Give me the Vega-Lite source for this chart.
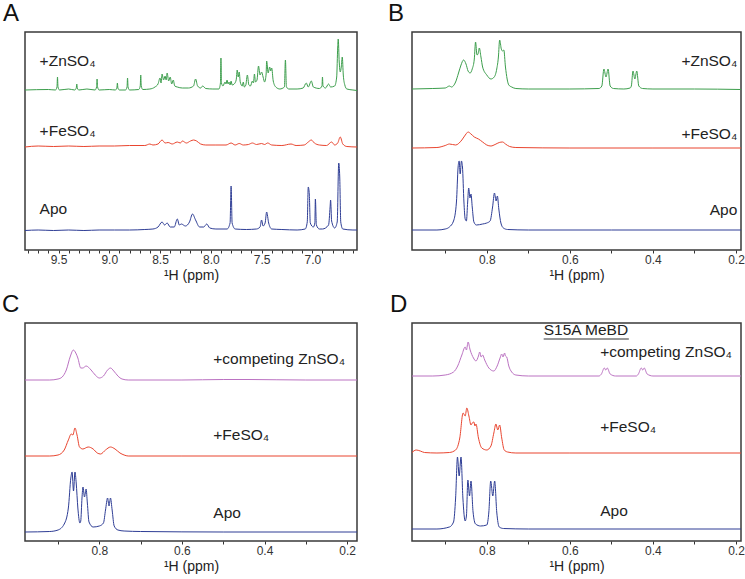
{
  "$schema": "https://vega.github.io/schema/vega-lite/v6.json",
  "padding": {"left": 1, "top": 1, "right": 0, "bottom": 0},
  "background": "white",
  "config": {
    "font": "Liberation Sans",
    "view": {"stroke": "#3a3a3a", "strokeWidth": 1.5},
    "axis": {"domain": false, "grid": false, "tickSize": 3, "tickColor": "#333", "tickWidth": 1, "labelFontSize": 12, "labelColor": "#333", "labelFont": "Liberation Sans", "labelPadding": 1, "labelOverlap": false, "labelFlush": false, "labelBound": false, "titleFont": "Liberation Sans", "titleFontSize": 14, "titleFontWeight": "normal", "titleColor": "#222", "titlePadding": 3},
    "title": {"font": "Liberation Sans", "fontSize": 24, "fontWeight": "normal", "color": "#111", "anchor": "start", "frame": "group", "offset": 6},
    "text": {"font": "Liberation Sans", "fontSize": 15.5, "color": "#222"}
  },
  "datasets": {
    "A": [
      {"s":"Zn","p":9.83,"i":157},{"s":"Zn","p":9.6,"i":157.5},{"s":"Zn","p":9.53,"i":157},{"s":"Zn","p":9.515,"i":160},{"s":"Zn","p":9.51,"i":170},{"s":"Zn","p":9.505,"i":160},{"s":"Zn","p":9.49,"i":157},{"s":"Zn","p":9.4,"i":158},{"s":"Zn","p":9.34,"i":157},{"s":"Zn","p":9.325,"i":159},{"s":"Zn","p":9.32,"i":163},{"s":"Zn","p":9.315,"i":159},{"s":"Zn","p":9.3,"i":157},{"s":"Zn","p":9.22,"i":158},{"s":"Zn","p":9.14,"i":157},{"s":"Zn","p":9.125,"i":160},{"s":"Zn","p":9.12,"i":168},{"s":"Zn","p":9.115,"i":160},{"s":"Zn","p":9.1,"i":157},{"s":"Zn","p":9.0,"i":157.5},{"s":"Zn","p":8.94,"i":157},{"s":"Zn","p":8.925,"i":159},{"s":"Zn","p":8.92,"i":164},{"s":"Zn","p":8.915,"i":159},{"s":"Zn","p":8.9,"i":157},{"s":"Zn","p":8.84,"i":157},{"s":"Zn","p":8.825,"i":160},{"s":"Zn","p":8.82,"i":169},{"s":"Zn","p":8.815,"i":160},{"s":"Zn","p":8.8,"i":157},{"s":"Zn","p":8.71,"i":157.5},{"s":"Zn","p":8.695,"i":161},{"s":"Zn","p":8.69,"i":172},{"s":"Zn","p":8.685,"i":161},{"s":"Zn","p":8.67,"i":157.5},{"s":"Zn","p":8.6,"i":158},{"s":"Zn","p":8.55,"i":160},{"s":"Zn","p":8.52,"i":163},{"s":"Zn","p":8.5,"i":169},{"s":"Zn","p":8.49,"i":164},{"s":"Zn","p":8.48,"i":173},{"s":"Zn","p":8.465,"i":167},{"s":"Zn","p":8.45,"i":171},{"s":"Zn","p":8.44,"i":167},{"s":"Zn","p":8.43,"i":174},{"s":"Zn","p":8.415,"i":166},{"s":"Zn","p":8.4,"i":170},{"s":"Zn","p":8.385,"i":163},{"s":"Zn","p":8.37,"i":167},{"s":"Zn","p":8.355,"i":161},{"s":"Zn","p":8.33,"i":160},{"s":"Zn","p":8.28,"i":159},{"s":"Zn","p":8.22,"i":159},{"s":"Zn","p":8.17,"i":161},{"s":"Zn","p":8.15,"i":168},{"s":"Zn","p":8.13,"i":161},{"s":"Zn","p":8.1,"i":159},{"s":"Zn","p":8.08,"i":161},{"s":"Zn","p":8.05,"i":158.5},{"s":"Zn","p":7.98,"i":158},{"s":"Zn","p":7.92,"i":158},{"s":"Zn","p":7.905,"i":164},{"s":"Zn","p":7.9,"i":189},{"s":"Zn","p":7.895,"i":164},{"s":"Zn","p":7.88,"i":161},{"s":"Zn","p":7.86,"i":165},{"s":"Zn","p":7.85,"i":163},{"s":"Zn","p":7.84,"i":167},{"s":"Zn","p":7.83,"i":163},{"s":"Zn","p":7.82,"i":165},{"s":"Zn","p":7.81,"i":162},{"s":"Zn","p":7.8,"i":166},{"s":"Zn","p":7.79,"i":162},{"s":"Zn","p":7.77,"i":163},{"s":"Zn","p":7.75,"i":167},{"s":"Zn","p":7.74,"i":177},{"s":"Zn","p":7.73,"i":170},{"s":"Zn","p":7.72,"i":175},{"s":"Zn","p":7.71,"i":165},{"s":"Zn","p":7.69,"i":161},{"s":"Zn","p":7.68,"i":165},{"s":"Zn","p":7.67,"i":160},{"s":"Zn","p":7.655,"i":162},{"s":"Zn","p":7.64,"i":172},{"s":"Zn","p":7.625,"i":162},{"s":"Zn","p":7.61,"i":161},{"s":"Zn","p":7.59,"i":166},{"s":"Zn","p":7.58,"i":164},{"s":"Zn","p":7.57,"i":173},{"s":"Zn","p":7.56,"i":165},{"s":"Zn","p":7.545,"i":167},{"s":"Zn","p":7.53,"i":181},{"s":"Zn","p":7.515,"i":172},{"s":"Zn","p":7.5,"i":175},{"s":"Zn","p":7.485,"i":170},{"s":"Zn","p":7.47,"i":165},{"s":"Zn","p":7.455,"i":173},{"s":"Zn","p":7.45,"i":186},{"s":"Zn","p":7.435,"i":174},{"s":"Zn","p":7.42,"i":180},{"s":"Zn","p":7.41,"i":176},{"s":"Zn","p":7.4,"i":179},{"s":"Zn","p":7.385,"i":166},{"s":"Zn","p":7.36,"i":160},{"s":"Zn","p":7.32,"i":158},{"s":"Zn","p":7.275,"i":160},{"s":"Zn","p":7.265,"i":187},{"s":"Zn","p":7.255,"i":160},{"s":"Zn","p":7.23,"i":158},{"s":"Zn","p":7.15,"i":158},{"s":"Zn","p":7.09,"i":159},{"s":"Zn","p":7.06,"i":164},{"s":"Zn","p":7.04,"i":160},{"s":"Zn","p":7.01,"i":166},{"s":"Zn","p":6.99,"i":160},{"s":"Zn","p":6.93,"i":158.5},{"s":"Zn","p":6.905,"i":161},{"s":"Zn","p":6.9,"i":170},{"s":"Zn","p":6.895,"i":161},{"s":"Zn","p":6.87,"i":159},{"s":"Zn","p":6.84,"i":163},{"s":"Zn","p":6.82,"i":160},{"s":"Zn","p":6.78,"i":161},{"s":"Zn","p":6.76,"i":170},{"s":"Zn","p":6.75,"i":200},{"s":"Zn","p":6.745,"i":208},{"s":"Zn","p":6.735,"i":185},{"s":"Zn","p":6.725,"i":175},{"s":"Zn","p":6.715,"i":180},{"s":"Zn","p":6.705,"i":190},{"s":"Zn","p":6.695,"i":172},{"s":"Zn","p":6.68,"i":162},{"s":"Zn","p":6.66,"i":158},{"s":"Zn","p":6.6,"i":157},{"s":"Zn","p":6.56,"i":156.5},
      {"s":"Fe","p":9.83,"i":100},{"s":"Fe","p":9.7,"i":101},{"s":"Fe","p":9.55,"i":100.5},{"s":"Fe","p":9.4,"i":101},{"s":"Fe","p":9.25,"i":100.5},{"s":"Fe","p":9.1,"i":101},{"s":"Fe","p":8.95,"i":101},{"s":"Fe","p":8.8,"i":101.5},{"s":"Fe","p":8.65,"i":101.5},{"s":"Fe","p":8.6,"i":103},{"s":"Fe","p":8.57,"i":102},{"s":"Fe","p":8.52,"i":103},{"s":"Fe","p":8.48,"i":107},{"s":"Fe","p":8.45,"i":104},{"s":"Fe","p":8.42,"i":104.5},{"s":"Fe","p":8.38,"i":103},{"s":"Fe","p":8.33,"i":105},{"s":"Fe","p":8.3,"i":104},{"s":"Fe","p":8.28,"i":106},{"s":"Fe","p":8.24,"i":104},{"s":"Fe","p":8.2,"i":106},{"s":"Fe","p":8.17,"i":107},{"s":"Fe","p":8.14,"i":106},{"s":"Fe","p":8.1,"i":103},{"s":"Fe","p":8.05,"i":102},{"s":"Fe","p":7.95,"i":102},{"s":"Fe","p":7.85,"i":102},{"s":"Fe","p":7.8,"i":104},{"s":"Fe","p":7.76,"i":102},{"s":"Fe","p":7.72,"i":103.5},{"s":"Fe","p":7.68,"i":102},{"s":"Fe","p":7.63,"i":102.5},{"s":"Fe","p":7.59,"i":104},{"s":"Fe","p":7.55,"i":102.5},{"s":"Fe","p":7.5,"i":103.5},{"s":"Fe","p":7.47,"i":102.5},{"s":"Fe","p":7.44,"i":104},{"s":"Fe","p":7.4,"i":102},{"s":"Fe","p":7.3,"i":101.5},{"s":"Fe","p":7.21,"i":103},{"s":"Fe","p":7.16,"i":101.5},{"s":"Fe","p":7.08,"i":102},{"s":"Fe","p":7.04,"i":105},{"s":"Fe","p":7.01,"i":107},{"s":"Fe","p":6.98,"i":104},{"s":"Fe","p":6.93,"i":102},{"s":"Fe","p":6.86,"i":101.5},{"s":"Fe","p":6.81,"i":105},{"s":"Fe","p":6.78,"i":102},{"s":"Fe","p":6.75,"i":104},{"s":"Fe","p":6.725,"i":110},{"s":"Fe","p":6.7,"i":103},{"s":"Fe","p":6.66,"i":100.5},{"s":"Fe","p":6.56,"i":100},
      {"s":"Apo","p":9.83,"i":16.5},{"s":"Apo","p":9.7,"i":17},{"s":"Apo","p":9.55,"i":16.5},{"s":"Apo","p":9.4,"i":17},{"s":"Apo","p":9.25,"i":16.5},{"s":"Apo","p":9.1,"i":17},{"s":"Apo","p":8.95,"i":17},{"s":"Apo","p":8.8,"i":17},{"s":"Apo","p":8.65,"i":17.5},{"s":"Apo","p":8.57,"i":18},{"s":"Apo","p":8.52,"i":20},{"s":"Apo","p":8.48,"i":25},{"s":"Apo","p":8.455,"i":22},{"s":"Apo","p":8.43,"i":24},{"s":"Apo","p":8.4,"i":20},{"s":"Apo","p":8.36,"i":20},{"s":"Apo","p":8.33,"i":28},{"s":"Apo","p":8.31,"i":22},{"s":"Apo","p":8.29,"i":23},{"s":"Apo","p":8.25,"i":21},{"s":"Apo","p":8.21,"i":25},{"s":"Apo","p":8.18,"i":33},{"s":"Apo","p":8.15,"i":27},{"s":"Apo","p":8.11,"i":20},{"s":"Apo","p":8.07,"i":20},{"s":"Apo","p":8.04,"i":23},{"s":"Apo","p":8.01,"i":19},{"s":"Apo","p":7.95,"i":18},{"s":"Apo","p":7.84,"i":18},{"s":"Apo","p":7.81,"i":24},{"s":"Apo","p":7.8,"i":61},{"s":"Apo","p":7.79,"i":24},{"s":"Apo","p":7.76,"i":18},{"s":"Apo","p":7.65,"i":17.5},{"s":"Apo","p":7.55,"i":18},{"s":"Apo","p":7.515,"i":20},{"s":"Apo","p":7.5,"i":27},{"s":"Apo","p":7.485,"i":21},{"s":"Apo","p":7.465,"i":24},{"s":"Apo","p":7.45,"i":35},{"s":"Apo","p":7.43,"i":24},{"s":"Apo","p":7.4,"i":18},{"s":"Apo","p":7.3,"i":17.5},{"s":"Apo","p":7.15,"i":17},{"s":"Apo","p":7.07,"i":18},{"s":"Apo","p":7.05,"i":25},{"s":"Apo","p":7.04,"i":60},{"s":"Apo","p":7.03,"i":53},{"s":"Apo","p":7.02,"i":24},{"s":"Apo","p":6.99,"i":20},{"s":"Apo","p":6.975,"i":24},{"s":"Apo","p":6.97,"i":48},{"s":"Apo","p":6.96,"i":22},{"s":"Apo","p":6.93,"i":18},{"s":"Apo","p":6.9,"i":18},{"s":"Apo","p":6.84,"i":22},{"s":"Apo","p":6.825,"i":40},{"s":"Apo","p":6.82,"i":47},{"s":"Apo","p":6.81,"i":26},{"s":"Apo","p":6.78,"i":19},{"s":"Apo","p":6.755,"i":25},{"s":"Apo","p":6.74,"i":84},{"s":"Apo","p":6.73,"i":70},{"s":"Apo","p":6.72,"i":25},{"s":"Apo","p":6.7,"i":18},{"s":"Apo","p":6.6,"i":17},{"s":"Apo","p":6.56,"i":17}
    ],
    "B": [
      {"s":"Zn","p":0.98,"i":158},{"s":"Zn","p":0.93,"i":158.5},{"s":"Zn","p":0.9,"i":159},{"s":"Zn","p":0.89,"i":161},{"s":"Zn","p":0.885,"i":160},{"s":"Zn","p":0.875,"i":165},{"s":"Zn","p":0.868,"i":174},{"s":"Zn","p":0.862,"i":182},{"s":"Zn","p":0.856,"i":187},{"s":"Zn","p":0.85,"i":183},{"s":"Zn","p":0.845,"i":176},{"s":"Zn","p":0.84,"i":174},{"s":"Zn","p":0.835,"i":178},{"s":"Zn","p":0.83,"i":188},{"s":"Zn","p":0.827,"i":205},{"s":"Zn","p":0.8235,"i":192},{"s":"Zn","p":0.821,"i":193},{"s":"Zn","p":0.818,"i":199},{"s":"Zn","p":0.814,"i":190},{"s":"Zn","p":0.81,"i":180},{"s":"Zn","p":0.8,"i":172},{"s":"Zn","p":0.79,"i":168},{"s":"Zn","p":0.782,"i":170},{"s":"Zn","p":0.776,"i":178},{"s":"Zn","p":0.772,"i":190},{"s":"Zn","p":0.769,"i":207},{"s":"Zn","p":0.765,"i":198},{"s":"Zn","p":0.762,"i":196},{"s":"Zn","p":0.759,"i":197},{"s":"Zn","p":0.755,"i":180},{"s":"Zn","p":0.751,"i":168},{"s":"Zn","p":0.747,"i":162},{"s":"Zn","p":0.74,"i":160},{"s":"Zn","p":0.73,"i":158.5},{"s":"Zn","p":0.7,"i":158},{"s":"Zn","p":0.6,"i":158},{"s":"Zn","p":0.53,"i":158.5},{"s":"Zn","p":0.523,"i":161},{"s":"Zn","p":0.518,"i":178},{"s":"Zn","p":0.513,"i":170},{"s":"Zn","p":0.508,"i":178},{"s":"Zn","p":0.503,"i":161},{"s":"Zn","p":0.495,"i":158.5},{"s":"Zn","p":0.47,"i":158},{"s":"Zn","p":0.455,"i":159},{"s":"Zn","p":0.452,"i":161},{"s":"Zn","p":0.448,"i":176},{"s":"Zn","p":0.4435,"i":168},{"s":"Zn","p":0.439,"i":176},{"s":"Zn","p":0.434,"i":161},{"s":"Zn","p":0.425,"i":158.5},{"s":"Zn","p":0.4,"i":158},{"s":"Zn","p":0.3,"i":158},{"s":"Zn","p":0.188,"i":157.5},
      {"s":"Fe","p":0.98,"i":99},{"s":"Fe","p":0.92,"i":99.5},{"s":"Fe","p":0.9,"i":101.5},{"s":"Fe","p":0.89,"i":103},{"s":"Fe","p":0.875,"i":102},{"s":"Fe","p":0.86,"i":107},{"s":"Fe","p":0.85,"i":113},{"s":"Fe","p":0.845,"i":115},{"s":"Fe","p":0.838,"i":113},{"s":"Fe","p":0.83,"i":110},{"s":"Fe","p":0.82,"i":108},{"s":"Fe","p":0.81,"i":105},{"s":"Fe","p":0.8,"i":102},{"s":"Fe","p":0.79,"i":101},{"s":"Fe","p":0.78,"i":102.5},{"s":"Fe","p":0.77,"i":104.5},{"s":"Fe","p":0.762,"i":105},{"s":"Fe","p":0.755,"i":103},{"s":"Fe","p":0.745,"i":100.5},{"s":"Fe","p":0.73,"i":99.5},{"s":"Fe","p":0.6,"i":99},{"s":"Fe","p":0.4,"i":99},{"s":"Fe","p":0.188,"i":99},
      {"s":"Apo","p":0.98,"i":17},{"s":"Apo","p":0.92,"i":17},{"s":"Apo","p":0.9,"i":18},{"s":"Apo","p":0.89,"i":20},{"s":"Apo","p":0.88,"i":26},{"s":"Apo","p":0.873,"i":45},{"s":"Apo","p":0.869,"i":80},{"s":"Apo","p":0.8665,"i":86},{"s":"Apo","p":0.864,"i":73},{"s":"Apo","p":0.861,"i":86},{"s":"Apo","p":0.8585,"i":80},{"s":"Apo","p":0.855,"i":45},{"s":"Apo","p":0.852,"i":28},{"s":"Apo","p":0.849,"i":26},{"s":"Apo","p":0.846,"i":45},{"s":"Apo","p":0.8435,"i":59},{"s":"Apo","p":0.8405,"i":49},{"s":"Apo","p":0.838,"i":53},{"s":"Apo","p":0.835,"i":40},{"s":"Apo","p":0.831,"i":25},{"s":"Apo","p":0.825,"i":22},{"s":"Apo","p":0.81,"i":23},{"s":"Apo","p":0.8,"i":24},{"s":"Apo","p":0.792,"i":26},{"s":"Apo","p":0.786,"i":40},{"s":"Apo","p":0.7815,"i":54},{"s":"Apo","p":0.7775,"i":46},{"s":"Apo","p":0.7745,"i":51},{"s":"Apo","p":0.771,"i":38},{"s":"Apo","p":0.766,"i":24},{"s":"Apo","p":0.76,"i":19},{"s":"Apo","p":0.75,"i":17.5},{"s":"Apo","p":0.7,"i":17},{"s":"Apo","p":0.5,"i":17},{"s":"Apo","p":0.188,"i":17}
    ],
    "C": [
      {"s":"comp","p":0.98,"i":158},{"s":"comp","p":0.92,"i":158},{"s":"comp","p":0.9,"i":159},{"s":"comp","p":0.89,"i":161},{"s":"comp","p":0.88,"i":168},{"s":"comp","p":0.87,"i":182},{"s":"comp","p":0.863,"i":188},{"s":"comp","p":0.857,"i":185},{"s":"comp","p":0.852,"i":180},{"s":"comp","p":0.845,"i":170},{"s":"comp","p":0.84,"i":170},{"s":"comp","p":0.832,"i":172},{"s":"comp","p":0.82,"i":168},{"s":"comp","p":0.81,"i":163},{"s":"comp","p":0.8,"i":160},{"s":"comp","p":0.79,"i":162},{"s":"comp","p":0.78,"i":168},{"s":"comp","p":0.773,"i":170},{"s":"comp","p":0.765,"i":167},{"s":"comp","p":0.755,"i":162},{"s":"comp","p":0.745,"i":159},{"s":"comp","p":0.73,"i":158},{"s":"comp","p":0.6,"i":158},{"s":"comp","p":0.5,"i":158.5},{"s":"comp","p":0.44,"i":158.5},{"s":"comp","p":0.3,"i":158},{"s":"comp","p":0.176,"i":158},
      {"s":"Fe","p":0.98,"i":82},{"s":"Fe","p":0.92,"i":82},{"s":"Fe","p":0.9,"i":83},{"s":"Fe","p":0.885,"i":88},{"s":"Fe","p":0.875,"i":98},{"s":"Fe","p":0.868,"i":104},{"s":"Fe","p":0.864,"i":103},{"s":"Fe","p":0.859,"i":110},{"s":"Fe","p":0.854,"i":103},{"s":"Fe","p":0.848,"i":91},{"s":"Fe","p":0.84,"i":89},{"s":"Fe","p":0.827,"i":91},{"s":"Fe","p":0.815,"i":89},{"s":"Fe","p":0.805,"i":85},{"s":"Fe","p":0.797,"i":84},{"s":"Fe","p":0.785,"i":88},{"s":"Fe","p":0.773,"i":91},{"s":"Fe","p":0.762,"i":89},{"s":"Fe","p":0.75,"i":85},{"s":"Fe","p":0.74,"i":83},{"s":"Fe","p":0.73,"i":82},{"s":"Fe","p":0.6,"i":82},{"s":"Fe","p":0.176,"i":82},
      {"s":"Apo","p":0.98,"i":6},{"s":"Apo","p":0.92,"i":6.5},{"s":"Apo","p":0.9,"i":8},{"s":"Apo","p":0.885,"i":14},{"s":"Apo","p":0.875,"i":30},{"s":"Apo","p":0.869,"i":60},{"s":"Apo","p":0.866,"i":66},{"s":"Apo","p":0.8625,"i":47},{"s":"Apo","p":0.859,"i":66},{"s":"Apo","p":0.856,"i":55},{"s":"Apo","p":0.852,"i":30},{"s":"Apo","p":0.847,"i":15},{"s":"Apo","p":0.845,"i":17},{"s":"Apo","p":0.842,"i":40},{"s":"Apo","p":0.8395,"i":51},{"s":"Apo","p":0.836,"i":41},{"s":"Apo","p":0.832,"i":49},{"s":"Apo","p":0.829,"i":35},{"s":"Apo","p":0.825,"i":16},{"s":"Apo","p":0.815,"i":11},{"s":"Apo","p":0.8,"i":12},{"s":"Apo","p":0.79,"i":15},{"s":"Apo","p":0.785,"i":28},{"s":"Apo","p":0.78,"i":40},{"s":"Apo","p":0.7765,"i":32},{"s":"Apo","p":0.773,"i":40},{"s":"Apo","p":0.769,"i":28},{"s":"Apo","p":0.764,"i":12},{"s":"Apo","p":0.755,"i":8},{"s":"Apo","p":0.74,"i":7},{"s":"Apo","p":0.7,"i":6.5},{"s":"Apo","p":0.5,"i":6},{"s":"Apo","p":0.176,"i":6}
    ],
    "D": [
      {"s":"comp","p":0.98,"i":162},{"s":"comp","p":0.93,"i":162},{"s":"comp","p":0.9,"i":163},{"s":"comp","p":0.88,"i":166},{"s":"comp","p":0.87,"i":172},{"s":"comp","p":0.86,"i":183},{"s":"comp","p":0.852,"i":191},{"s":"comp","p":0.849,"i":188},{"s":"comp","p":0.845,"i":196},{"s":"comp","p":0.84,"i":188},{"s":"comp","p":0.832,"i":180},{"s":"comp","p":0.826,"i":177},{"s":"comp","p":0.82,"i":182},{"s":"comp","p":0.817,"i":186},{"s":"comp","p":0.8135,"i":181},{"s":"comp","p":0.81,"i":183},{"s":"comp","p":0.805,"i":178},{"s":"comp","p":0.795,"i":170},{"s":"comp","p":0.783,"i":167},{"s":"comp","p":0.775,"i":172},{"s":"comp","p":0.768,"i":180},{"s":"comp","p":0.764,"i":184},{"s":"comp","p":0.761,"i":181},{"s":"comp","p":0.757,"i":185},{"s":"comp","p":0.755,"i":182},{"s":"comp","p":0.752,"i":181},{"s":"comp","p":0.747,"i":172},{"s":"comp","p":0.74,"i":166},{"s":"comp","p":0.73,"i":163},{"s":"comp","p":0.7,"i":162},{"s":"comp","p":0.53,"i":162},{"s":"comp","p":0.524,"i":164},{"s":"comp","p":0.517,"i":170},{"s":"comp","p":0.5135,"i":168},{"s":"comp","p":0.51,"i":170},{"s":"comp","p":0.503,"i":164},{"s":"comp","p":0.49,"i":162},{"s":"comp","p":0.44,"i":162},{"s":"comp","p":0.435,"i":164},{"s":"comp","p":0.428,"i":170},{"s":"comp","p":0.4245,"i":168},{"s":"comp","p":0.421,"i":170},{"s":"comp","p":0.414,"i":164},{"s":"comp","p":0.4,"i":162},{"s":"comp","p":0.188,"i":162},
      {"s":"Fe","p":0.98,"i":85.5},{"s":"Fe","p":0.97,"i":88},{"s":"Fe","p":0.96,"i":87},{"s":"Fe","p":0.95,"i":85.5},{"s":"Fe","p":0.92,"i":85},{"s":"Fe","p":0.89,"i":85.5},{"s":"Fe","p":0.875,"i":88},{"s":"Fe","p":0.865,"i":100},{"s":"Fe","p":0.857,"i":125},{"s":"Fe","p":0.852,"i":122},{"s":"Fe","p":0.848,"i":130},{"s":"Fe","p":0.843,"i":122},{"s":"Fe","p":0.838,"i":113},{"s":"Fe","p":0.835,"i":115},{"s":"Fe","p":0.831,"i":116},{"s":"Fe","p":0.8285,"i":112},{"s":"Fe","p":0.826,"i":114},{"s":"Fe","p":0.82,"i":100},{"s":"Fe","p":0.812,"i":90},{"s":"Fe","p":0.8,"i":88},{"s":"Fe","p":0.79,"i":92},{"s":"Fe","p":0.783,"i":105},{"s":"Fe","p":0.778,"i":114},{"s":"Fe","p":0.7735,"i":108},{"s":"Fe","p":0.769,"i":113},{"s":"Fe","p":0.764,"i":100},{"s":"Fe","p":0.758,"i":88},{"s":"Fe","p":0.75,"i":86},{"s":"Fe","p":0.73,"i":85},{"s":"Fe","p":0.6,"i":85},{"s":"Fe","p":0.188,"i":85},
      {"s":"Apo","p":0.98,"i":9},{"s":"Apo","p":0.92,"i":9},{"s":"Apo","p":0.89,"i":11},{"s":"Apo","p":0.88,"i":16},{"s":"Apo","p":0.875,"i":40},{"s":"Apo","p":0.8705,"i":81},{"s":"Apo","p":0.8665,"i":62},{"s":"Apo","p":0.862,"i":81},{"s":"Apo","p":0.8575,"i":40},{"s":"Apo","p":0.852,"i":17},{"s":"Apo","p":0.849,"i":22},{"s":"Apo","p":0.8455,"i":58},{"s":"Apo","p":0.8415,"i":42},{"s":"Apo","p":0.838,"i":57},{"s":"Apo","p":0.833,"i":26},{"s":"Apo","p":0.827,"i":14},{"s":"Apo","p":0.815,"i":12},{"s":"Apo","p":0.8,"i":13},{"s":"Apo","p":0.795,"i":26},{"s":"Apo","p":0.7905,"i":57},{"s":"Apo","p":0.7855,"i":42},{"s":"Apo","p":0.781,"i":57},{"s":"Apo","p":0.776,"i":26},{"s":"Apo","p":0.77,"i":11},{"s":"Apo","p":0.76,"i":9.5},{"s":"Apo","p":0.7,"i":9},{"s":"Apo","p":0.188,"i":9}
    ],
    "AL": [{"p":9.686,"i":186,"t":"+ZnSO₄"},{"p":9.686,"i":116,"t":"+FeSO₄"},{"p":9.686,"i":38,"t":"Apo"}],
    "BL": [{"p":0.197,"i":186,"t":"+ZnSO₄"},{"p":0.197,"i":113,"t":"+FeSO₄"},{"p":0.197,"i":37,"t":"Apo"}],
    "CL": [{"p":0.524,"i":179,"t":"+competing ZnSO₄"},{"p":0.524,"i":103,"t":"+FeSO₄"},{"p":0.524,"i":25,"t":"Apo"}],
    "DL": [{"p":0.527,"i":186,"t":"+competing ZnSO₄"},{"p":0.527,"i":111,"t":"+FeSO₄"},{"p":0.527,"i":27,"t":"Apo"}],
    "DT": [{"p":0.663,"i":208,"t":"S15A MeBD"}],
    "DU": [{"p":0.663,"p2":0.458,"i":199}]
  },
  "columns": 2,
  "spacing": {"row": 73, "column": 55},
  "bounds": "flush",
  "concat": [
    {
      "width": 332, "height": 218,
      "title": {"text": "A", "dx": -22},
      "resolve": {"axis": {"x": "independent"}},
      "layer": [
        {"data": {"name": "A"}, "mark": {"type": "line", "strokeWidth": 1, "interpolate": "monotone"},
         "encoding": {
           "x": {"field": "p", "type": "quantitative", "scale": {"domain": [6.56, 9.83], "reverse": true, "nice": false, "zero": false},
                 "axis": {"title": "¹H (ppm)", "orient": "bottom", "values": [9.5, 9.0, 8.5, 8.0, 7.5, 7.0], "format": ".1f"}},
           "y": {"field": "i", "type": "quantitative", "scale": {"domain": [-3, 215], "nice": false, "zero": false}, "axis": null},
           "color": {"field": "s", "type": "nominal", "scale": {"domain": ["Zn","Fe","Apo","comp"], "range": ["#3c9e4c","#e9452f","#2e3d95","#bb72c2"]}, "legend": null}
         }},
        {"data": {"name": "AL"}, "mark": {"type": "text", "align": "left", "baseline": "middle"},
         "encoding": {"x": {"field": "p", "type": "quantitative",
                            "axis": {"orient": "bottom", "offset": 0, "title": null, "labels": false, "values": [9.8,9.7,9.6,9.4,9.3,9.2,9.1,8.9,8.8,8.7,8.6,8.4,8.3,8.2,8.1,7.9,7.8,7.7,7.6,7.4,7.3,7.2,7.1,6.9,6.8,6.7,6.6]}},
                      "y": {"field": "i", "type": "quantitative"}, "text": {"field": "t"}}}
      ]
    },
    {
      "width": 329, "height": 218,
      "title": {"text": "B", "dx": -24},
      "layer": [
        {"data": {"name": "B"}, "mark": {"type": "line", "strokeWidth": 1, "interpolate": "monotone"},
         "encoding": {
           "x": {"field": "p", "type": "quantitative", "scale": {"domain": [0.188, 0.98], "reverse": true, "nice": false, "zero": false},
                 "axis": {"title": "¹H (ppm)", "labelOverlap": false, "values": [0.95,0.9,0.85,0.8,0.75,0.7,0.65,0.6,0.55,0.5,0.45,0.4,0.35,0.3,0.25,0.2], "labelExpr": "round(datum.value*100) % 20 == 0 ? format(datum.value, '.1f') : ''"}},
           "y": {"field": "i", "type": "quantitative", "scale": {"domain": [-3, 215], "nice": false, "zero": false}, "axis": null},
           "color": {"field": "s", "type": "nominal", "scale": {"domain": ["Zn","Fe","Apo","comp"], "range": ["#3c9e4c","#e9452f","#2e3d95","#bb72c2"]}, "legend": null}
         }},
        {"data": {"name": "BL"}, "mark": {"type": "text", "align": "right", "baseline": "middle"},
         "encoding": {"x": {"field": "p", "type": "quantitative"}, "y": {"field": "i", "type": "quantitative"}, "text": {"field": "t"}}}
      ]
    },
    {
      "width": 332, "height": 218,
      "title": {"text": "C", "dx": -23},
      "layer": [
        {"data": {"name": "C"}, "mark": {"type": "line", "strokeWidth": 1, "interpolate": "monotone"},
         "encoding": {
           "x": {"field": "p", "type": "quantitative", "scale": {"domain": [0.176, 0.98], "reverse": true, "nice": false, "zero": false},
                 "axis": {"title": "¹H (ppm)", "labelOverlap": false, "values": [0.95,0.9,0.85,0.8,0.75,0.7,0.65,0.6,0.55,0.5,0.45,0.4,0.35,0.3,0.25,0.2], "labelExpr": "round(datum.value*100) % 20 == 0 ? format(datum.value, '.1f') : ''"}},
           "y": {"field": "i", "type": "quantitative", "scale": {"domain": [-3, 215], "nice": false, "zero": false}, "axis": null},
           "color": {"field": "s", "type": "nominal", "scale": {"domain": ["Zn","Fe","Apo","comp"], "range": ["#3c9e4c","#e9452f","#2e3d95","#bb72c2"]}, "legend": null}
         }},
        {"data": {"name": "CL"}, "mark": {"type": "text", "align": "left", "baseline": "middle"},
         "encoding": {"x": {"field": "p", "type": "quantitative"}, "y": {"field": "i", "type": "quantitative"}, "text": {"field": "t"}}}
      ]
    },
    {
      "width": 329, "height": 218,
      "title": {"text": "D", "dx": -22},
      "layer": [
        {"data": {"name": "D"}, "mark": {"type": "line", "strokeWidth": 1, "interpolate": "monotone"},
         "encoding": {
           "x": {"field": "p", "type": "quantitative", "scale": {"domain": [0.188, 0.98], "reverse": true, "nice": false, "zero": false},
                 "axis": {"title": "¹H (ppm)", "labelOverlap": false, "values": [0.95,0.9,0.85,0.8,0.75,0.7,0.65,0.6,0.55,0.5,0.45,0.4,0.35,0.3,0.25,0.2], "labelExpr": "round(datum.value*100) % 20 == 0 ? format(datum.value, '.1f') : ''"}},
           "y": {"field": "i", "type": "quantitative", "scale": {"domain": [-3, 215], "nice": false, "zero": false}, "axis": null},
           "color": {"field": "s", "type": "nominal", "scale": {"domain": ["Zn","Fe","Apo","comp"], "range": ["#3c9e4c","#e9452f","#2e3d95","#bb72c2"]}, "legend": null}
         }},
        {"data": {"name": "DL"}, "mark": {"type": "text", "align": "left", "baseline": "middle"},
         "encoding": {"x": {"field": "p", "type": "quantitative"}, "y": {"field": "i", "type": "quantitative"}, "text": {"field": "t"}}},
        {"data": {"name": "DT"}, "mark": {"type": "text", "align": "left", "baseline": "middle"},
         "encoding": {"x": {"field": "p", "type": "quantitative"}, "y": {"field": "i", "type": "quantitative"}, "text": {"field": "t"}}},
        {"data": {"name": "DU"}, "mark": {"type": "rule", "strokeWidth": 1.2, "color": "#333"},
         "encoding": {"x": {"field": "p", "type": "quantitative"}, "x2": {"field": "p2"}, "y": {"field": "i", "type": "quantitative"}}}
      ]
    }
  ]
}
